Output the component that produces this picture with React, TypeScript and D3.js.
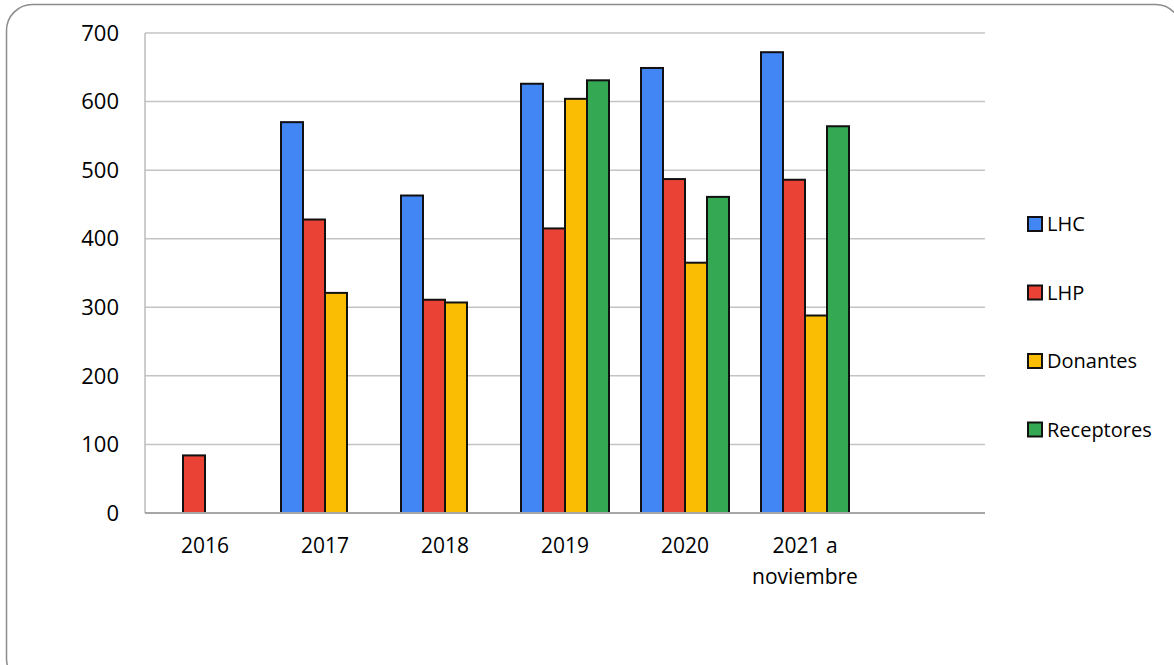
import React, {useEffect, useRef} from "react";
import * as d3 from "d3";

const categories = ["2016", "2017", "2018", "2019", "2020", "2021 a noviembre", ""];
const seriesNames = ["LHC", "LHP", "Donantes", "Receptores"];
const seriesColors = ["#4285F4", "#EA4335", "#FBBC04", "#34A853"];
const lhc = [null, 570, 463, 626, 649, 672, null];
const lhp = [84, 428, 311, 415, 487, 486, null];
const donantes = [null, 321, 307, 604, 365, 288, null];
const receptores = [null, null, null, 631, 461, 564, null];
const yTicks = [0, 100, 200, 300, 400, 500, 600, 700];

function App() {
    const myNode = useRef(null);

    useEffect(() => {
        const width = 1174;
        const height = 665;
        const font = "'Open Sans', 'Noto Sans', sans-serif";
        const seriesValues = [lhc, lhp, donantes, receptores];

        d3.select(myNode.current).selectAll("*").remove();

        const svg = d3.select(myNode.current)
            .append("svg")
            .attr("width", width)
            .attr("height", height)
            .style("position", "absolute")
            .style("left", 0)
            .style("top", 0)
            .style("font-family", font);

        // chart frame
        svg.append("rect")
            .attr("x", 6.5)
            .attr("y", 4.5)
            .attr("width", 1175)
            .attr("height", 680)
            .attr("rx", 26)
            .attr("fill", "#fff")
            .attr("stroke", "#8c8c8c")
            .attr("stroke-width", 1.5);

        const left = 145, right = 985, top = 33, bottom = 513;

        const x0 = d3.scaleBand()
            .domain(categories.map((c, i) => String(i)))
            .range([left, right])
            .padding(0);

        const x1 = d3.scaleBand()
            .domain(seriesNames)
            .range([16, x0.bandwidth() - 16])
            .padding(0);

        const y = d3.scaleLinear()
            .domain([0, 700])
            .range([bottom, top]);

        // gridlines
        svg.append("g")
            .selectAll("line")
            .data(yTicks.filter(t => t > 0))
            .enter()
            .append("line")
            .attr("x1", left)
            .attr("x2", right)
            .attr("y1", d => y(d))
            .attr("y2", d => y(d))
            .attr("stroke", "#c4c4c4")
            .attr("stroke-width", 1.5);

        // left axis line
        svg.append("line")
            .attr("x1", left)
            .attr("x2", left)
            .attr("y1", top)
            .attr("y2", bottom)
            .attr("stroke", "#bdbdbd")
            .attr("stroke-width", 1.5);

        // y labels
        svg.append("g")
            .selectAll("text")
            .data(yTicks)
            .enter()
            .append("text")
            .attr("x", 119)
            .attr("y", d => y(d))
            .attr("dy", "0.35em")
            .attr("text-anchor", "end")
            .attr("font-size", 22)
            .attr("fill", "#000")
            .text(d => d);

        // bars
        seriesNames.forEach((name, si) => {
            const rows = seriesValues[si]
                .map((v, i) => ({cat: String(i), v}))
                .filter(d => d.v != null);
            svg.append("g")
                .selectAll("rect")
                .data(rows)
                .enter()
                .append("rect")
                .attr("x", d => x0(d.cat) + x1(name))
                .attr("y", d => y(d.v))
                .attr("width", x1.bandwidth())
                .attr("height", d => y(0) - y(d.v))
                .attr("fill", seriesColors[si])
                .attr("stroke", "#111")
                .attr("stroke-width", 2);
        });

        // bottom axis line
        svg.append("line")
            .attr("x1", left)
            .attr("x2", right)
            .attr("y1", bottom)
            .attr("y2", bottom)
            .attr("stroke", "#a6a6a6")
            .attr("stroke-width", 2);

        // x labels
        const xl = svg.append("g")
            .selectAll("text")
            .data(categories.map((c, i) => ({c, i: String(i)})))
            .enter()
            .append("text")
            .attr("x", d => x0(d.i) + x0.bandwidth() / 2)
            .attr("y", 546)
            .attr("text-anchor", "middle")
            .attr("font-size", 21)
            .attr("fill", "#000");
        xl.each(function (d) {
            const words = d.c.split(" ");
            const lines = words.length > 2 ? [words.slice(0, 2).join(" "), words.slice(2).join(" ")] : [d.c];
            const t = d3.select(this);
            lines.forEach((ln, li) => {
                t.append("tspan")
                    .attr("x", x0(d.i) + x0.bandwidth() / 2)
                    .attr("dy", li === 0 ? "0.35em" : 31)
                    .text(ln);
            });
        });

        // legend
        const legend = svg.append("g")
            .selectAll("g")
            .data(seriesNames)
            .enter()
            .append("g")
            .attr("transform", (d, i) => `translate(1028, ${224 + i * 68.5})`);
        legend.append("rect")
            .attr("x", 0)
            .attr("y", -7)
            .attr("width", 14)
            .attr("height", 14)
            .attr("fill", (d, i) => seriesColors[i])
            .attr("stroke", "#111")
            .attr("stroke-width", 2);
        legend.append("text")
            .attr("x", 19)
            .attr("y", 0)
            .attr("dy", "0.35em")
            .attr("font-size", 20)
            .attr("fill", "#000")
            .text(d => d);
    }, []);

    return (
        <div ref={myNode}></div>
    );
}

export default App;
